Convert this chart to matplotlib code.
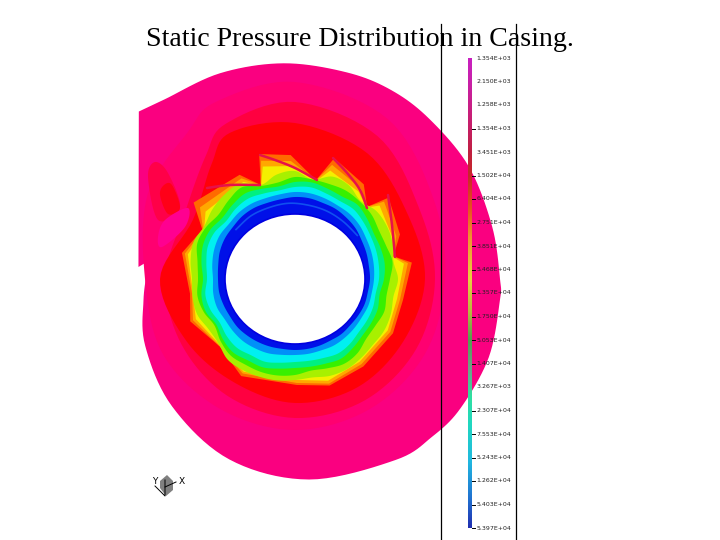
import numpy as np
import matplotlib
matplotlib.use("Agg")
import matplotlib.pyplot as plt
from matplotlib.colors import LinearSegmentedColormap
from matplotlib.patches import Ellipse, Polygon

TITLE = "Static Pressure Distribution in Casing."
CENTER = (295.0, 279.0)

# casing outline: polar angle (deg) and radius, running clockwise from the upper-left corner
casing_ang = [133, 126, 110, 93, 76, 63, 50, 33, 15, 0, -6, -22, -38, -49, -61, -86, -110, -134, -156, -172, -183.5]
casing_rad = [229, 222, 219, 216, 213, 212, 209, 207, 204, 205, 206, 209, 210, 209, 207, 201, 192, 177, 164, 153, 148]
notch_ang = [175.6, 172.5, 169]
notch_rad = [157, 146, 146]

# outer casing pressure contours
band_ang = [0, 30, 60, 90, 114, 126, 150, 180, 210, 240, 270, 300, 330]
band1_rad = [150, 160, 185, 197, 194, 182, 170, 150, 152, 150, 151, 150, 150]
band2_rad = [140, 143, 165, 177, 170, 152, 128, 130, 131, 135, 139, 140, 140]
band3_rad = [130, 130, 145, 156, 160, 142, 118, 135, 125, 120, 124, 125, 125]

# impeller outer contours (saw-tooth, sharp corners at the blades)
imp_ang = [8, 13, 23, 41, 45, 54, 72, 78, 92, 106, 110, 118, 143, 152, 167, 188, 202, 222, 241, 271, 288, 308, 331, 349]
orange_rad = [118, 101, 114, 124, 102, 117, 127, 101, 124, 130, 100, 118, 127, 105, 116, 106, 113, 101, 111, 106, 112, 111, 112, 110]
darkorange_rad = [114, 101, 110, 118, 102, 112, 120, 101, 118, 123, 100, 114, 119, 104, 113, 104, 110, 101, 108, 104, 110, 108, 109, 107]
yellow_rad = [110, 100, 106, 112, 101, 108, 114, 100, 113, 117, 99, 110, 112, 103, 110, 103, 107, 100, 106, 101, 107, 105, 106, 104]

# impeller inner contours, one value every 10 degrees from 0
inner_ang = [0, 10, 20, 30, 40, 50, 60, 70, 80, 90, 100, 110, 120, 130, 140, 150, 160, 170,
             180, 190, 200, 210, 220, 230, 240, 250, 260, 270, 280, 290, 300, 310, 320, 330, 340, 350]
lime_rad = [103, 100, 104, 106, 106, 102, 108, 109, 101, 108, 106, 100, 110, 110, 108, 105, 108, 106,
            103, 104, 104, 100, 100, 105, 105, 104, 103, 101, 100, 103, 104, 103, 102, 103, 102, 100]
green_rad = [95, 99, 97, 97, 100, 101, 102, 101, 101, 102, 98, 99, 106, 103, 100, 103, 104, 99,
             97, 99, 97, 93, 97, 100, 99, 99, 98, 96, 93, 95, 98, 97, 93, 93, 95, 93]
spring_rad = [89, 91, 91, 91, 94, 97, 95, 96, 98, 97, 94, 96, 99, 97, 95, 98, 98, 95,
              92, 95, 95, 91, 94, 96, 94, 94, 91, 89, 89, 90, 92, 90, 88, 88, 88, 86]
cyan_rad = [84, 85, 86, 87, 89, 91, 90, 91, 93, 92, 90, 91, 93, 92, 90, 93, 93, 90,
            88, 91, 90, 87, 89, 90, 88, 88, 85, 83, 83, 84, 86, 85, 83, 83, 83, 82]
sky_rad = [79, 80, 81, 82, 84, 85, 85, 86, 87, 87, 86, 86, 87, 87, 86, 87, 86, 84,
           82, 83, 83, 81, 81, 81, 80, 79, 77, 76, 76, 76, 77, 77, 77, 77, 78, 78]
blue_rad = [75, 75, 76, 77, 79, 80, 81, 81, 82, 82, 81, 81, 82, 82, 81, 81, 80, 78,
            77, 77, 76, 75, 75, 74, 73, 72, 71, 71, 71, 71, 71, 72, 72, 73, 74, 74]

hole_w = 140
hole_h = 130

# lighter slit between the two dark-blue rings on the upper side
slit_ang = [35, 50, 65, 80, 95, 110, 125, 140]
slit_rad = [76, 75, 75, 75, 76, 76, 77, 77]

# flow features
wedge_x = [155, 148, 158, 180, 168]
wedge_y = [162, 177, 220, 208, 173]
wedge_in_x = [164, 160, 168, 180, 172]
wedge_in_y = [185, 195, 214, 208, 185]
tongue_x = [165, 158, 162, 185, 188]
tongue_y = [220, 237, 247, 227, 208]
blade_a_x = [260, 275, 295, 317]
blade_a_y = [155, 160, 168, 180]
blade_b_x = [333, 348, 360, 367]
blade_b_y = [158, 174, 190, 208]
blade_c_x = [388, 392, 395]
blade_c_y = [195, 225, 257]
blade_d_x = [207, 230, 260]
blade_d_y = [188, 185, 185]

# colour bar
bar_pos = [0, .05, .12, .2, .25, .32, .38, .47, .54, .6, .66, .72, .78, .86, .94, 1]
bar_col = ["#c820c0", "#c820a8", "#c81e78", "#c02040", "#c82828", "#e85020", "#f09030",
           "#e8d040", "#b8b840", "#50a050", "#70a088", "#30e0a0", "#20d8c0", "#20b8e0", "#2070d0", "#2030b0"]
tick_labels = ["1.354E+03", "2.150E+03", "1.258E+03", "-1.354E+03", "3.451E+03", "-1.502E+04", "-6.404E+04",
               "-2.751E+04", "-3.851E+04", "-5.468E+04", "-1.357E+04", "-1.750E+04", "-5.053E+04", "-1.407E+04",
               "3.267E+03", "-2.307E+04", "-7.553E+04", "-5.243E+04", "-1.262E+04", "-5.403E+04", "-5.397E+04"]
tick_marked = [0, 0, 0, 1, 0, 1, 1, 1, 1, 1, 1, 1, 1, 1, 0, 1, 1, 1, 1, 1, 1]


def polar(ang, rad):
    a = np.deg2rad(np.asarray(ang, float))
    r = np.asarray(rad, float)
    return np.c_[CENTER[0] + r * np.cos(a), CENTER[1] - r * np.sin(a)]


def rounded(pts, closed=True, n=10):
    """Catmull-Rom drawing of a contour through its control points."""
    p = np.asarray(pts, float)
    if closed:
        p = np.vstack([p[-1], p, p[0], p[1]])
    else:
        p = np.vstack([p[0], p, p[-1]])
    t = np.linspace(0, 1, n, endpoint=False)[:, None]
    out = []
    for i in range(1, len(p) - 2):
        a, b, c, d = p[i - 1], p[i], p[i + 1], p[i + 2]
        out.append(0.5 * (2 * b + (c - a) * t + (2 * a - 5 * b + 4 * c - d) * t ** 2 + (3 * b - a - 3 * c + d) * t ** 3))
    out = np.vstack(out)
    return out if closed else np.vstack([out, p[-2]])


fig = plt.figure(figsize=(7.2, 5.4), dpi=100, facecolor="white")
ax = fig.add_axes([0, 0, 1, 1])
ax.set_xlim(0, 720)
ax.set_ylim(540, 0)
ax.axis("off")

casing_xy = np.vstack([rounded(polar(casing_ang, casing_rad), closed=False), polar(notch_ang[::-1], notch_rad[::-1]),
                       polar(notch_ang[:1], notch_rad[:1])])
ax.add_patch(Polygon(casing_xy, fc="#fa0080", ec="none", zorder=1))
for rad, col in [(band1_rad, "#ff0070"), (band2_rad, "#ff0040"), (band3_rad, "#ff0008")]:
    ax.add_patch(Polygon(rounded(polar(band_ang, rad)), fc=col, ec="none", zorder=2))

ax.add_patch(Polygon(rounded(np.c_[wedge_x, wedge_y]), fc="#ff0048", ec="none", zorder=3))
ax.add_patch(Polygon(rounded(np.c_[wedge_in_x, wedge_in_y]), fc="#ff0018", ec="none", zorder=3))
ax.add_patch(Polygon(rounded(np.c_[tongue_x, tongue_y]), fc="#ff0090", ec="none", zorder=3))

sharp_layers = [(orange_rad, "#ff6a00"), (darkorange_rad, "#ffa800"), (yellow_rad, "#f4f000")]
for i, (rad, col) in enumerate(sharp_layers):
    ax.add_patch(Polygon(polar(imp_ang, rad), fc=col, ec="none", zorder=4 + i * 0.1))
smooth_layers = [(lime_rad, "#a8f000"), (green_rad, "#38f000"), (spring_rad, "#00f080"),
                 (cyan_rad, "#00f0f0"), (sky_rad, "#0090f8"), (blue_rad, "#0010e8")]
for i, (rad, col) in enumerate(smooth_layers):
    ax.add_patch(Polygon(rounded(polar(inner_ang, rad)), fc=col, ec="none", zorder=4.5 + i * 0.05))

ax.plot(*rounded(polar(slit_ang, slit_rad), closed=False).T, color="#1050f0", lw=1.2, zorder=4.9)

for xs, ys in [(blade_a_x, blade_a_y), (blade_b_x, blade_b_y), (blade_c_x, blade_c_y), (blade_d_x, blade_d_y)]:
    ax.plot(*rounded(np.c_[xs, ys], closed=False).T, color="#e8104a", lw=1.8, solid_capstyle="round", zorder=5)

ax.add_patch(Ellipse(CENTER, hole_w, hole_h, fc="white", ec="#0000e0", lw=1.2, zorder=6))

# colour bar
cmap = LinearSegmentedColormap.from_list("bar", list(zip(bar_pos, bar_col)))
ax.imshow(np.linspace(0, 1, 256)[:, None], cmap=cmap, extent=(468, 471.5, 528, 58),
          aspect="auto", zorder=7, interpolation="bilinear")
ax.set_xlim(0, 720)
ax.set_ylim(540, 0)
tick_y = np.linspace(58, 528, len(tick_labels))
for y, lab, mark in zip(tick_y, tick_labels, tick_marked):
    if mark:
        ax.plot([472, 475], [y, y], color="black", lw=0.7, zorder=8)
    ax.text(511, y, lab.lstrip("-"), fontsize=4.5, color="#222222", ha="right",
            va="center", family="DejaVu Sans", zorder=8)

# bounding lines
ax.plot([441, 441], [24, 540], color="black", lw=0.9, zorder=9)
ax.plot([515.5, 515.5], [24, 540], color="black", lw=0.9, zorder=9)

# axis triad
ax.add_patch(Polygon([(167, 475), (173, 481), (173, 490), (166, 496), (160, 488), (160, 481)],
                     fc="#808080", ec="none", zorder=8))
ax.plot([165, 165, 155], [480, 496, 486], color="black", lw=0.7, zorder=9)
ax.plot([165, 176], [487, 482], color="black", lw=0.7, zorder=9)
ax.text(182, 481, "X", fontsize=6.5, ha="center", va="center", family="DejaVu Sans", zorder=9)
ax.text(155, 481, "Y", fontsize=6.5, ha="center", va="center", family="DejaVu Sans", zorder=9)

ax.text(146, 40, TITLE, fontsize=20.1, family="Liberation Serif", ha="left", va="center", color="black", zorder=10)

fig.savefig("out.png", dpi=100, facecolor="white")
